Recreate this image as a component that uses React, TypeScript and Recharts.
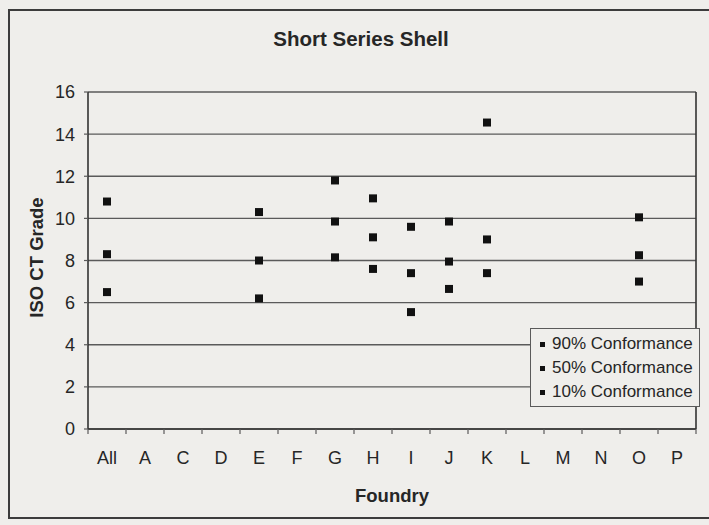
import React from 'react';
import {
  ScatterChart,
  Scatter,
  XAxis,
  YAxis,
  ZAxis,
  CartesianGrid,
  Legend,
  Label,
} from 'recharts';

const CATEGORIES = ['All', 'A', 'C', 'D', 'E', 'F', 'G', 'H', 'I', 'J', 'K', 'L', 'M', 'N', 'O', 'P'];
const P90: (number | null)[] = [10.8, null, null, null, 10.3, null, 11.8, 10.95, 9.6, 9.85, 14.55, null, null, null, 10.05, null];
const P50: (number | null)[] = [8.3, null, null, null, 8.0, null, 9.85, 9.1, 7.4, 7.95, 9.0, null, null, null, 8.25, null];
const P10: (number | null)[] = [6.5, null, null, null, 6.2, null, 8.15, 7.6, 5.55, 6.65, 7.4, null, null, null, 7.0, null];
const Y_TICKS = [0, 2, 4, 6, 8, 10, 12, 14, 16];
const SERIES_NAMES = ['90% Conformance', '50% Conformance', '10% Conformance'];

const W = 709;
const H = 525;
const PLOT_LEFT = 88;
const PLOT_RIGHT = 696;
const PLOT_TOP = 92;
const PLOT_BOTTOM = 429;
const Y_AXIS_W = 40;
const X_AXIS_H = 30;
const PLOT_W = PLOT_RIGHT - PLOT_LEFT;
const HALF_BAND = PLOT_W / CATEGORIES.length / 2;

const BG = '#efeeeb';
const INK = '#262626';
const GRID = '#5a5a5a';
const FONT = '"Liberation Sans", Arial, Helvetica, sans-serif';

const toPoints = (vals: (number | null)[]) =>
  vals
    .map((v, i) => (v == null ? null : { x: i, y: v, name: CATEGORIES[i] }))
    .filter((p) => p !== null) as { x: number; y: number; name: string }[];

const X_TICKS = CATEGORIES.map((_, i) => i - 0.5).concat([CATEGORIES.length - 0.5]);

const XTick = (props: any) => {
  const { x, y, payload } = props;
  const idx = Math.round(payload.value + 0.5);
  if (idx < 0 || idx >= CATEGORIES.length) return null;
  return (
    <text
      x={x + HALF_BAND}
      y={y + 28}
      textAnchor="middle"
      fontSize={18}
      fontFamily={FONT}
      fill={INK}
    >
      {CATEGORIES[idx]}
    </text>
  );
};

const LegendBox = (props: any) => {
  const payload = props.payload || [];
  const items = SERIES_NAMES.filter((n) => payload.some((p: any) => p.value === n));
  return (
    <div
      style={{
        border: `1.5px solid ${GRID}`,
        background: BG,
        width: 170,
        boxSizing: 'border-box',
        padding: '3px 0 2px 9px',
        fontFamily: FONT,
        fontSize: 17,
        color: INK,
        whiteSpace: 'nowrap',
      }}
    >
      {items.map((name) => (
        <div key={name} style={{ display: 'flex', alignItems: 'center', height: 24 }}>
          <span
            style={{
              display: 'inline-block',
              width: 5,
              height: 5,
              background: '#111',
              marginRight: 7,
            }}
          />
          <span>{name}</span>
        </div>
      ))}
    </div>
  );
};

export default function App() {
  return (
    <div
      style={{
        position: 'absolute',
        left: 0,
        top: 0,
        width: W,
        height: H,
        overflow: 'hidden',
        background: BG,
      }}
    >
      <div
        style={{
          position: 'absolute',
          left: 8,
          top: 9,
          width: W + 10,
          height: 510,
          border: '2px solid #3c3c3c',
          boxSizing: 'border-box',
        }}
      />
      <div
        style={{
          position: 'absolute',
          left: 0,
          width: 722,
          top: 27,
          textAlign: 'center',
          fontFamily: FONT,
          fontWeight: 'bold',
          fontSize: 20.5,
          color: INK,
        }}
      >
        Short Series Shell
      </div>
      <div style={{ position: 'absolute', left: 0, top: 0 }}>
        <ScatterChart
          width={W}
          height={H}
          margin={{
            top: PLOT_TOP,
            right: W - PLOT_RIGHT - 1,
            bottom: H - PLOT_BOTTOM - X_AXIS_H,
            left: PLOT_LEFT - Y_AXIS_W,
          }}
        >
          <CartesianGrid yAxisId="l" vertical={false} stroke={GRID} strokeWidth={1.4} />
          <XAxis
            type="number"
            dataKey="x"
            domain={[-0.5, CATEGORIES.length - 0.5]}
            ticks={X_TICKS}
            interval={0}
            height={X_AXIS_H}
            tick={<XTick />}
            tickSize={5}
            tickLine={{ stroke: GRID, strokeWidth: 1.2 }}
            axisLine={{ stroke: '#333', strokeWidth: 1.6 }}
          >
            <Label
              content={(p: any) => {
                const vb = p.viewBox;
                return (
                  <text
                    x={vb.x + vb.width / 2}
                    y={vb.y + vb.height + 43}
                    textAnchor="middle"
                    fontSize={18.5}
                    fontWeight="bold"
                    fontFamily={FONT}
                    fill={INK}
                  >
                    Foundry
                  </text>
                );
              }}
            />
          </XAxis>
          <YAxis
            yAxisId="l"
            type="number"
            dataKey="y"
            domain={[0, 16]}
            ticks={Y_TICKS}
            interval={0}
            width={Y_AXIS_W}
            tickSize={4}
            tickMargin={9}
            tick={{ fontSize: 18, fontFamily: FONT, fill: INK }}
            tickLine={{ stroke: GRID, strokeWidth: 1.2 }}
            axisLine={{ stroke: '#333', strokeWidth: 1.6 }}
          >
            <Label
              content={(p: any) => {
                const vb = p.viewBox;
                const cx = vb.x - 12;
                const cy = vb.y + vb.height / 2 - 3;
                return (
                  <text
                    x={cx}
                    y={cy}
                    transform={`rotate(-90 ${cx} ${cy})`}
                    textAnchor="middle"
                    dominantBaseline="central"
                    fontSize={18.5}
                    fontWeight="bold"
                    fontFamily={FONT}
                    fill={INK}
                  >
                    ISO CT Grade
                  </text>
                );
              }}
            />
          </YAxis>
          <YAxis
            yAxisId="r"
            orientation="right"
            type="number"
            domain={[0, 16]}
            ticks={Y_TICKS}
            width={1}
            tick={false}
            tickLine={false}
            axisLine={{ stroke: '#333', strokeWidth: 1.6 }}
          />
          <ZAxis range={[36, 36]} />
          <Legend
            layout="vertical"
            align="center"
            verticalAlign="middle"
            content={<LegendBox />}
            wrapperStyle={{ left: 530, top: 328, width: 170 }}
          />
          <Scatter
            yAxisId="l"
            name={SERIES_NAMES[0]}
            data={toPoints(P90)}
            fill="#111"
            shape="square"
            legendType="square"
            isAnimationActive={false}
          />
          <Scatter
            yAxisId="l"
            name={SERIES_NAMES[1]}
            data={toPoints(P50)}
            fill="#111"
            shape="square"
            legendType="square"
            isAnimationActive={false}
          />
          <Scatter
            yAxisId="l"
            name={SERIES_NAMES[2]}
            data={toPoints(P10)}
            fill="#111"
            shape="square"
            legendType="square"
            isAnimationActive={false}
          />
        </ScatterChart>
      </div>
    </div>
  );
}
